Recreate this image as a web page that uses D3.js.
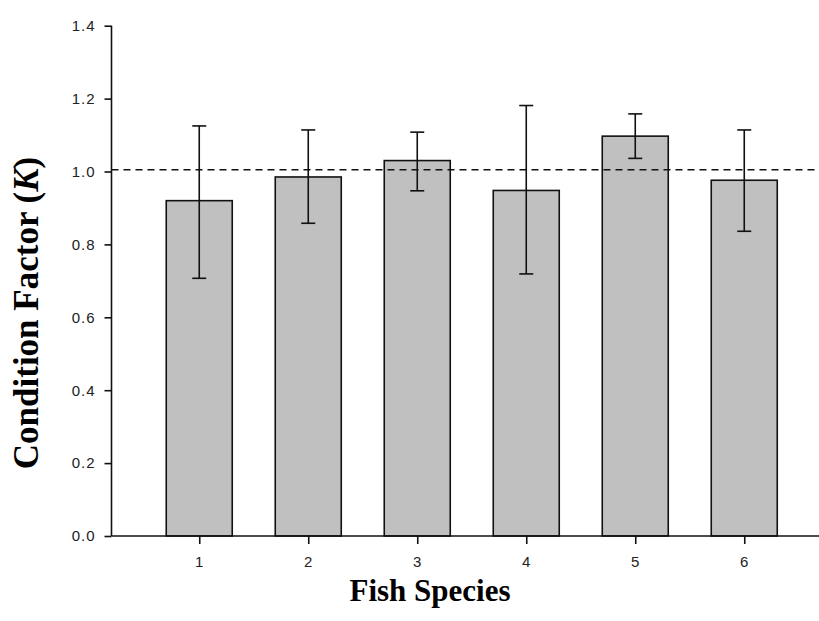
<!DOCTYPE html>
<html>
<head>
<meta charset="utf-8">
<script src="https://cdn.jsdelivr.net/npm/d3@7/dist/d3.min.js"></script>
<style>
  html, body { margin: 0; padding: 0; background: #fff; }
  svg { display: block; }
</style>
</head>
<body>
<svg id="chart" width="819" height="621"></svg>
<script>
// Data
const categories = ["1", "2", "3", "4", "5", "6"];
const meanK = [0.920, 0.985, 1.030, 0.948, 1.097, 0.976];
const errUpper = [1.125, 1.114, 1.108, 1.181, 1.158, 1.114];
const errLower = [0.707, 0.858, 0.947, 0.719, 1.036, 0.836];
const referenceK = 1.005;
const yTicks = [0, 0.2, 0.4, 0.6, 0.8, 1.0, 1.2, 1.4];
const xTitle = "Fish Species";
const yTitleMain = "Condition Factor (";
const yTitleItalic = "K";
const yTitleEnd = ")";

const svg = d3.select("#chart");
const plotLeft = 111.5, plotRight = 832, plotTop = 25.7, plotBottom = 536;

const x = d3.scalePoint().domain(categories).range([plotLeft, plotRight]).padding(0.805);
const y = d3.scaleLinear().domain([0, 1.4]).range([plotBottom, plotTop]);
const barW = 66;
const capW = 14;

const data = categories.map((c, i) => ({c, v: meanK[i], hi: errUpper[i], lo: errLower[i]}));

// Bars
svg.append("g").selectAll("rect").data(data).join("rect")
  .attr("x", d => x(d.c) - barW / 2)
  .attr("y", d => y(d.v))
  .attr("width", barW)
  .attr("height", d => y(0) - y(d.v))
  .attr("fill", "#c0c0c0")
  .attr("stroke", "#111")
  .attr("stroke-width", 1.6);

// Reference dashed line
svg.append("line")
  .attr("x1", plotLeft).attr("x2", 819)
  .attr("y1", y(referenceK)).attr("y2", y(referenceK))
  .attr("stroke", "#111").attr("stroke-width", 1.6)
  .attr("stroke-dasharray", "7,5");

// Error bars
const eb = svg.append("g").attr("stroke", "#111").attr("stroke-width", 1.6);
eb.selectAll("line.v").data(data).join("line").attr("class", "v")
  .attr("x1", d => x(d.c)).attr("x2", d => x(d.c))
  .attr("y1", d => y(d.hi)).attr("y2", d => y(d.lo));
eb.selectAll("line.t").data(data).join("line").attr("class", "t")
  .attr("x1", d => x(d.c) - capW / 2).attr("x2", d => x(d.c) + capW / 2)
  .attr("y1", d => y(d.hi)).attr("y2", d => y(d.hi));
eb.selectAll("line.b").data(data).join("line").attr("class", "b")
  .attr("x1", d => x(d.c) - capW / 2).attr("x2", d => x(d.c) + capW / 2)
  .attr("y1", d => y(d.lo)).attr("y2", d => y(d.lo));

// Axes
const yAxis = d3.axisLeft(y).tickValues(yTicks).tickFormat(d3.format(".1f")).tickSize(7).tickPadding(9);
const gy = svg.append("g").attr("transform", `translate(${plotLeft},0)`).call(yAxis);
const xAxis = d3.axisBottom(x).tickSize(8).tickPadding(12);
const gx = svg.append("g").attr("transform", `translate(0,${plotBottom})`).call(xAxis);

[gx, gy].forEach(g => {
  g.select(".domain").attr("stroke", "#111").attr("stroke-width", 1.6);
  g.selectAll(".tick line").attr("stroke", "#111").attr("stroke-width", 1.6);
  g.selectAll(".tick text").attr("fill", "#222")
    .style("font-family", "'Liberation Sans', Arial, sans-serif").style("font-size", "15px")
    .style("letter-spacing", "1px");
});
gx.select(".domain").attr("d", `M${plotLeft},0H819`);
gy.select(".domain").attr("d", `M0,${plotTop}V${plotBottom}`);

// Titles
svg.append("text")
  .attr("x", 430).attr("y", 601)
  .attr("text-anchor", "middle")
  .style("font-family", "'Liberation Serif', 'Times New Roman', serif")
  .style("font-weight", "bold").style("font-size", "31px")
  .attr("fill", "#000")
  .text(xTitle);

const yt = svg.append("text")
  .attr("transform", `translate(38,313) rotate(-90)`)
  .attr("text-anchor", "middle")
  .style("font-family", "'Liberation Serif', 'Times New Roman', serif")
  .style("font-weight", "bold").style("font-size", "35px")
  .attr("fill", "#000");
yt.append("tspan").text(yTitleMain);
yt.append("tspan").style("font-style", "italic").text(yTitleItalic);
yt.append("tspan").text(yTitleEnd);
</script>
</body>
</html>
